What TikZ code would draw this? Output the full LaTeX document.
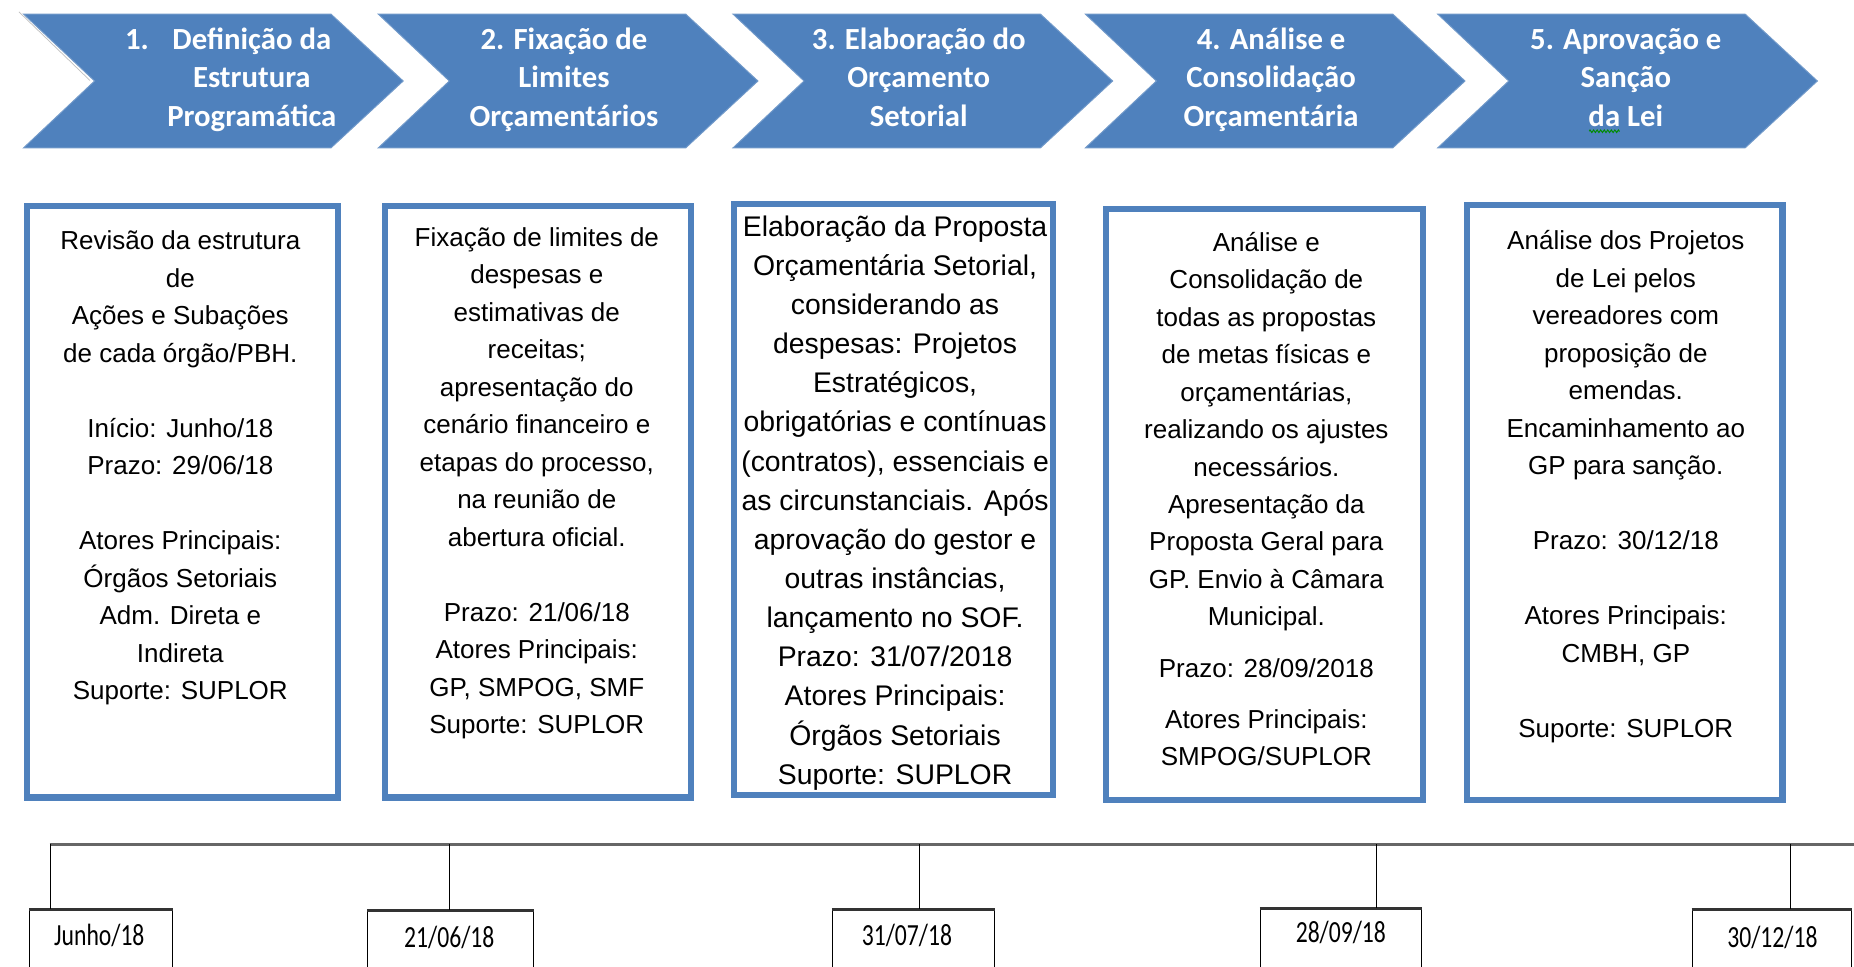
\documentclass[tikz,border=0pt]{standalone}
\usepackage{fontspec}
\usepackage{graphicx}
\setmainfont{Liberation Sans}
\newfontfamily\calfont{Carlito}
\usetikzlibrary{decorations.pathmorphing}
\definecolor{boxblue}{HTML}{4F81BD}
\definecolor{chevblue}{HTML}{4F81BD}
\begin{document}
\begin{tikzpicture}[x=1pt,y=-1pt,
  chev/.style={fill=chevblue, draw=chevblue!80!white, line width=0.8pt},
  chevtext/.style={text=white, font=\calfont\bfseries\fontsize{26}{32.5}\selectfont, align=center, anchor=north, inner sep=0pt},
  panel/.style={draw=boxblue, line width=5.2pt, inner sep=0pt},
  bodytext/.style={font=\fontsize{22}{31.7}\selectfont, align=center, anchor=north, inner sep=0pt},
  bigbodytext/.style={font=\fontsize{24}{33.1}\selectfont, align=center, anchor=north, inner sep=0pt},
  datebox/.style={draw=black, line width=0.8pt, inner sep=0pt, anchor=north, minimum height=70pt},
  datetext/.style={font=\calfont\fontsize{20}{24}\selectfont, inner sep=0pt},
  tick/.style={draw=black, line width=0.8pt},
  timeline/.style={draw=black!60, line width=2.5pt}
]
\clip (0,0) rectangle (1568,817);
\fill[white] (0,0) rectangle (1568,817);

% chevrons
\foreach \x in {20,320,620,918,1216}
  \path[chev] (\x,12) -- ++(260,0) -- ++(61,56.5) -- ++(-61,56.5) -- ++(-260,0) -- ++(60,-56.5) -- cycle;
\draw[black!25, line width=0.6pt] (16,10) -- (76,68);

\node[chevtext] (c1) at (213,18.75) {\strut\llap{1.\hspace{20pt}}Definição da\\Estrutura\\Programática};
\node[chevtext] (c2) at (477,18.75) {\strut 2. Fixação de\\Limites\\Orçamentários};
\node[chevtext] (c3) at (777,18.75) {\strut 3. Elaboração do\\Orçamento\\Setorial};
\node[chevtext] (c4) at (1075,18.75) {\strut 4. Análise e\\Consolidação\\Orçamentária};
\node[chevtext] (c5) at (1375,18.75) {\strut 5. Aprovação e\\Sanção\\da Lei};
\draw[green!55!black, line width=0.8pt, decorate, decoration={zigzag, amplitude=1.1pt, segment length=3pt}] (1344,111) -- (1370,111);

% panels
\node[panel, minimum width=263pt, minimum height=500pt] (p1) at (154,424.5) {};
\node[panel, minimum width=259pt, minimum height=500pt] (p2) at (455,424.5) {};
\node[panel, minimum width=270pt, minimum height=500pt] (p3) at (755.5,422.5) {};
\node[panel, minimum width=268pt, minimum height=500pt] (p4) at (1069.5,426.5) {};
\node[panel, minimum width=267pt, minimum height=503pt] (p5) at (1374,425) {};

\node[bodytext] (t1) at (152.5,189) {\strut Revisão da estrutura\\de\\Ações e Subações\\de cada órgão/PBH.\\[31.7pt]Início: Junho/18\\Prazo: 29/06/18\\[31.7pt]Atores Principais:\\Órgãos Setoriais\\Adm. Direta e\\Indireta\\Suporte: SUPLOR};
\node[bodytext] (t2) at (454,186) {\strut Fixação de limites de\\despesas e\\estimativas de\\receitas;\\apresentação do\\cenário financeiro e\\etapas do processo,\\na reunião de\\abertura oficial.\\[31.7pt]Prazo: 21/06/18\\Atores Principais:\\GP, SMPOG, SMF\\Suporte: SUPLOR};
\node[bigbodytext] (t3) at (757,176.4) {\strut Elaboração da Proposta\\Orçamentária Setorial,\\considerando as\\despesas: Projetos\\Estratégicos,\\obrigatórias e contínuas\\(contratos), essenciais e\\as circunstanciais. Após\\aprovação do gestor e\\outras instâncias,\\lançamento no SOF.\\Prazo: 31/07/2018\\Atores Principais:\\Órgãos Setoriais\\Suporte: SUPLOR};
\node[bodytext] (t4) at (1071,190) {\strut Análise e\\Consolidação de\\todas as propostas\\de metas físicas e\\orçamentárias,\\realizando os ajustes\\necessários.\\Apresentação da\\Proposta Geral para\\GP. Envio à Câmara\\Municipal.\\[12pt]Prazo: 28/09/2018\\[11pt]Atores Principais:\\SMPOG/SUPLOR};
\node[bodytext] (t5) at (1375,189) {\strut Análise dos Projetos\\de Lei pelos\\vereadores com\\proposição de\\emendas.\\Encaminhamento ao\\GP para sanção.\\[31.7pt]Prazo: 30/12/18\\[31.7pt]Atores Principais:\\CMBH, GP\\[31.7pt]Suporte: SUPLOR};

% timeline
\coordinate (tls) at (42,714);
\coordinate (tle) at (1568,714);
\draw[timeline] (tls) -- (tle);
\coordinate (k1) at (43,714);
\coordinate (k2) at (380,714);
\coordinate (k3) at (778,714);
\coordinate (k4) at (1164,714);
\coordinate (k5) at (1514,714);

\node[datebox, minimum width=121pt] (b1) at (85.5,769) {};
\node[datebox, minimum width=140pt] (b2) at (381,770) {};
\node[datebox, minimum width=137pt] (b3) at (772.5,769) {};
\node[datebox, minimum width=136pt] (b4) at (1134,768) {};
\node[datebox, minimum width=135pt] (b5) at (1498.5,769) {};
\foreach \b in {b1,b2,b3,b4,b5}
  \draw[black!80, line width=2.5pt] (\b.north west) -- (\b.north east);

\node[datetext] (d1) at (84,791) {\scalebox{1}[1.3]{Junho/18}};
\node[datetext] (d2) at (380,793) {\scalebox{1}[1.3]{21/06/18}};
\node[datetext] (d3) at (767,791) {\scalebox{1}[1.3]{31/07/18}};
\node[datetext] (d4) at (1134,789) {\scalebox{1}[1.3]{28/09/18}};
\node[datetext] (d5) at (1499,793) {\scalebox{1}[1.3]{30/12/18}};

\foreach \i in {1,...,5}
  \draw[tick] (k\i) -- (k\i |- b\i.north);
\end{tikzpicture}
\end{document}
